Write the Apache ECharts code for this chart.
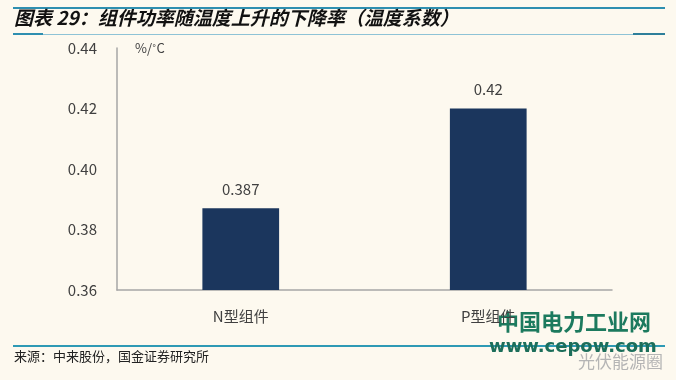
<!DOCTYPE html>
<html><head><meta charset="utf-8">
<script src="https://cdn.jsdelivr.net/npm/echarts@6/dist/echarts.min.js"></script>
<style>html,body{margin:0;padding:0;background:#FDF9EF;}#c{width:676px;height:380px;}</style>
</head><body><div id="c"></div>
<script>
const categories = ['N型组件', 'P型组件'];
const values = [0.387, 0.42];
const valueLabels = ['0.387', '0.42'];
const yTicks = [0.36, 0.38, 0.40, 0.42, 0.44];

const chart = echarts.init(document.getElementById('c'), null, {renderer: 'canvas'});
const font = '"Microsoft YaHei","Noto Sans CJK SC",sans-serif';
chart.setOption({
  backgroundColor: '#FDF9EF',
  animation: false,
  grid: {left: 117, right: 64, top: 48, bottom: 90},
  xAxis: {
    type: 'category', data: categories,
    axisLine: {lineStyle: {color: '#A6A6A6', width: 1.5}},
    axisTick: {show: false},
    axisLabel: {color: '#404040', fontSize: 15, margin: 19, fontFamily: font}
  },
  yAxis: {
    type: 'value', min: 0.36, max: 0.44, interval: 0.02,
    axisLine: {show: true, lineStyle: {color: '#A6A6A6', width: 1.5}},
    axisTick: {show: false},
    splitLine: {show: false},
    axisLabel: {color: '#404040', fontSize: 15, margin: 20, fontFamily: font,
      formatter: v => v.toFixed(2)}
  },
  series: [{
    type: 'bar', data: values, barWidth: '31%',
    itemStyle: {color: '#1B365D'},
    label: {show: true, position: 'top', distance: 12, color: '#404040', fontSize: 15, fontFamily: font,
      formatter: p => valueLabels[p.dataIndex]}
  }],
  graphic: [
    {type: 'rect', shape: {x: 13, y: 7, width: 652, height: 2}, style: {fill: '#2E8FB0'}},
    {type: 'text', left: 14, top: 8, style: {text: '图表 29：组件功率随温度上升的下降率（温度系数）', font: 'italic bold 19px "Noto Sans CJK SC"', fill: '#111'}},
    {type: 'rect', shape: {x: 13, y: 34, width: 652, height: 1}, style: {fill: '#8EC3D6'}},
    {type: 'rect', shape: {x: 13, y: 33, width: 30, height: 2}, style: {fill: '#2E8FB0'}},
    {type: 'rect', shape: {x: 633, y: 33, width: 32, height: 2}, style: {fill: '#2E7F9A'}},
    {type: 'text', left: 135, top: 42, style: {text: '%/˚C', font: '13px "Noto Sans CJK SC"', fill: '#404040'}},
    {type: 'rect', shape: {x: 13, y: 345, width: 652, height: 2}, style: {fill: '#2E9AB5'}},
    {type: 'text', left: 14, top: 350, style: {text: '来源：中来股份，国金证券研究所', font: '13px "Noto Sans CJK SC"', fill: '#222'}},
    {type: 'text', left: 497, top: 311, style: {text: '中国电力工业网', font: 'bold 22px "Noto Sans CJK SC"', fill: '#1C7A5E'}},
    {type: 'text', left: 489, top: 338, style: {text: 'www.cepow.com', font: 'bold 18px "DejaVu Sans"', fill: '#1C6E5A'}},
    {type: 'text', left: 578, top: 353, style: {text: '光伏能源圈', font: '17px "Noto Sans CJK SC"', fill: '#B5B5B5'}}
  ]
});
</script></body></html>
